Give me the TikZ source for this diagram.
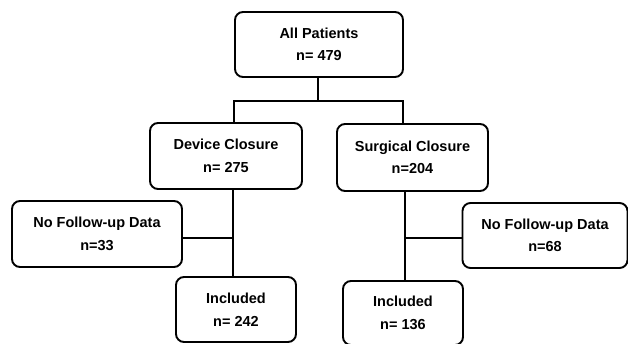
\documentclass[tikz,border=0pt]{standalone}
\usepackage{fontspec}
\setmainfont{Liberation Sans}
\begin{document}
\begin{tikzpicture}[x=1pt,y=-1pt,
  box/.style={draw=black, line width=1.9pt, rounded corners=8pt, align=center,
    font=\fontsize{14.5}{22.5}\selectfont\bfseries, inner sep=0pt},
  conn/.style={draw=black, line width=1.9pt}]
\useasboundingbox (0,0) rectangle (628,344);
\node[box, minimum width=168pt, minimum height=65pt] (all) at (319,44.5) {All Patients\\n= 479};
\node[box, minimum width=152pt, minimum height=66pt] (dev) at (226,156) {Device Closure\\n= 275};
\node[box, minimum width=151pt, minimum height=67pt] (surg) at (412.5,157.5) {Surgical Closure\\n=204};
\node[box, minimum width=170pt, minimum height=66pt] (nfl) at (97,234) {No Follow-up Data\\n=33};
\node[box, minimum width=165pt, minimum height=65pt] (nfr) at (545,235.5) {No Follow-up Data\\n=68};
\node[box, minimum width=120pt, minimum height=65pt] (incl) at (236,309.5) {Included\\n= 242};
\node[box, minimum width=120pt, minimum height=64pt] (incr) at (403,313) {Included\\n= 136};
\coordinate (jt) at (318,101);
\coordinate (jl) at (234,101);
\coordinate (jr) at (403,101);
\coordinate (bl) at (233,238);
\coordinate (br) at (405,238);
\draw[conn] (all.south -| jt) -- (jt);
\draw[conn] (dev.north -| jl) -- (jl) -- (jr) -- (surg.north -| jr);
\draw[conn] (dev.south -| bl) -- (incl.north -| bl);
\draw[conn] (nfl.east |- bl) -- (bl);
\draw[conn] (surg.south -| br) -- (incr.north -| br);
\draw[conn] (nfr.west |- br) -- (br);
\end{tikzpicture}
\end{document}
